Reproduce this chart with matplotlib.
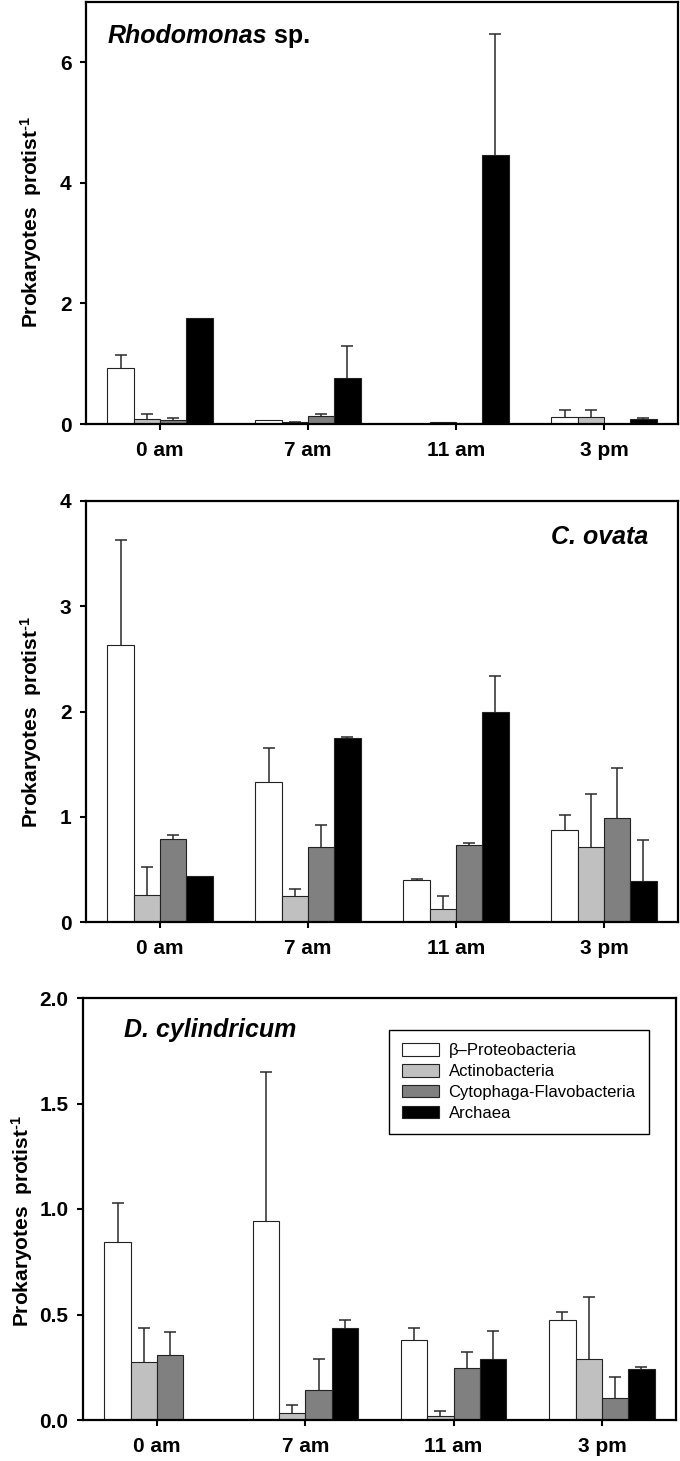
import numpy as np
import matplotlib
matplotlib.use("Agg")
import matplotlib.pyplot as plt
from matplotlib.patches import Patch

plt.rcParams['font.family'] = ['Liberation Sans', 'DejaVu Sans']
plt.rcParams['mathtext.fontset'] = 'custom'
plt.rcParams['mathtext.rm'] = 'Liberation Sans:bold'
plt.rcParams['mathtext.bf'] = 'Liberation Sans:bold'
plt.rcParams['mathtext.it'] = 'Liberation Sans:bold:italic'

# ---------------- data ----------------
times = ["0 am", "7 am", "11 am", "3 pm"]
groups = ["\u03b2\u2013Proteobacteria", "Actinobacteria", "Cytophaga-Flavobacteria", "Archaea"]

# Rhodomonas sp.
rho_beta = [0.93, 0.06, 0.0, 0.12]
rho_beta_err = [0.21, 0.0, 0.0, 0.11]
rho_actino = [0.08, 0.03, 0.03, 0.12]
rho_actino_err = [0.08, 0.01, 0.0, 0.11]
rho_cyto = [0.07, 0.13, 0.01, 0.0]
rho_cyto_err = [0.03, 0.04, 0.0, 0.0]
rho_arch = [1.76, 0.76, 4.47, 0.09]
rho_arch_err = [0.0, 0.53, 2.0, 0.01]

# C. ovata
cov_beta = [2.63, 1.33, 0.40, 0.87]
cov_beta_err = [1.0, 0.32, 0.01, 0.145]
cov_actino = [0.26, 0.245, 0.127, 0.71]
cov_actino_err = [0.26, 0.072, 0.12, 0.51]
cov_cyto = [0.785, 0.71, 0.734, 0.99]
cov_cyto_err = [0.04, 0.21, 0.016, 0.47]
cov_arch = [0.436, 1.75, 1.996, 0.39]
cov_arch_err = [0.0, 0.005, 0.344, 0.385]

# D. cylindricum
dcy_beta = [0.845, 0.945, 0.379, 0.475]
dcy_beta_err = [0.185, 0.705, 0.056, 0.038]
dcy_actino = [0.275, 0.034, 0.019, 0.289]
dcy_actino_err = [0.16, 0.037, 0.022, 0.294]
dcy_cyto = [0.309, 0.143, 0.246, 0.103]
dcy_cyto_err = [0.11, 0.144, 0.077, 0.101]
dcy_arch = [0.0, 0.435, 0.29, 0.242]
dcy_arch_err = [0.0, 0.037, 0.133, 0.007]

rho_ticks = [0, 2, 4, 6]
cov_ticks = [0, 1, 2, 3, 4]
dcy_ticks = [0.0, 0.5, 1.0, 1.5, 2.0]

colors = ["white", "#c0c0c0", "#808080", "black"]

W, H = 680, 1461
fig = plt.figure(figsize=(W / 100, H / 100), dpi=100)


def fax(l, r, t, b):
    return fig.add_axes([l / W, (H - b) / H, (r - l) / W, (b - t) / H])


ax1 = fax(86, 678, 2, 424)
ax2 = fax(86, 678, 501, 922)
ax3 = fax(83, 676, 998, 1420)

bw = 0.1775
x = np.arange(len(times))


def panel(ax, series, errs, ylim, ticks, fmt):
    for i, (vals, er) in enumerate(zip(series, errs)):
        pos = x + (i - 1.5) * bw
        ax.bar(pos, vals, width=bw, color=colors[i], edgecolor="#222222",
               linewidth=0.8, zorder=2)
        vals = np.array(vals)
        er = np.array(er)
        m = er > 0
        if m.any():
            eb = ax.errorbar(pos[m], vals[m], yerr=[np.zeros(m.sum()), er[m]],
                             fmt="none", ecolor="#2a2a2a", elinewidth=1.1,
                             capsize=4.5, capthick=1.1, zorder=1)
            caps = eb[1]
            if len(caps) == 2:
                caps[0].set_visible(False)
    ax.set_xlim(-0.5, 3.5)
    ax.set_ylim(*ylim)
    ax.set_yticks(ticks)
    ax.set_yticklabels([fmt.format(t) for t in ticks])
    ax.set_xticks(x)
    ax.set_xticklabels(times)
    for s in ax.spines.values():
        s.set_linewidth(1.6)
        s.set_color("black")
    ax.tick_params(axis="both", direction="out", length=4.5, width=1.5,
                   labelsize=15, top=False, right=False)
    ax.tick_params(axis="y", pad=6)
    ax.tick_params(axis="x", pad=8)
    for lab in ax.get_xticklabels() + ax.get_yticklabels():
        lab.set_fontweight("bold")
    ax.set_ylabel(r"Prokaryotes  protist$^{\mathrm{\text{-}1}}$", fontsize=15, fontweight="bold")


panel(ax1, [rho_beta, rho_actino, rho_cyto, rho_arch],
      [rho_beta_err, rho_actino_err, rho_cyto_err, rho_arch_err], (0, 7), rho_ticks, "{:g}")
panel(ax2, [cov_beta, cov_actino, cov_cyto, cov_arch],
      [cov_beta_err, cov_actino_err, cov_cyto_err, cov_arch_err], (0, 4), cov_ticks, "{:g}")
panel(ax3, [dcy_beta, dcy_actino, dcy_cyto, dcy_arch],
      [dcy_beta_err, dcy_actino_err, dcy_cyto_err, dcy_arch_err], (0, 2), dcy_ticks, "{:.1f}")

ax1.yaxis.set_label_coords(-0.071, 0.478)
ax2.yaxis.set_label_coords(-0.071, 0.476)
ax3.yaxis.set_label_coords(-0.081, 0.472)

# titles
t1 = ax1.text(0.037, 0.919, "Rhodomonas", transform=ax1.transAxes, fontsize=18,
              fontweight="bold", fontstyle="italic", ha="left", va="center")
ax1.annotate(" sp.", xy=(1, 0), xycoords=t1, va="bottom", ha="left",
             fontsize=18, fontweight="bold")
ax2.text(0.949, 0.915, "C. ovata", transform=ax2.transAxes, fontsize=18,
         fontweight="bold", fontstyle="italic", ha="right", va="center")
ax3.text(0.069, 0.924, "D. cylindricum", transform=ax3.transAxes, fontsize=18,
         fontweight="bold", fontstyle="italic", ha="left", va="center")

handles = [Patch(facecolor=c, edgecolor="#222222", linewidth=0.8) for c in colors]
leg = ax3.legend(handles, groups, loc="upper right", bbox_to_anchor=(0.9545, 0.924),
                 borderaxespad=0, fontsize=12, frameon=True, fancybox=False,
                 edgecolor="black", framealpha=1, handlelength=2.2, handleheight=0.75,
                 handletextpad=0.6, labelspacing=0.35, borderpad=0.8)
leg.get_frame().set_linewidth(1.0)

fig.savefig("out.png", dpi=100)
